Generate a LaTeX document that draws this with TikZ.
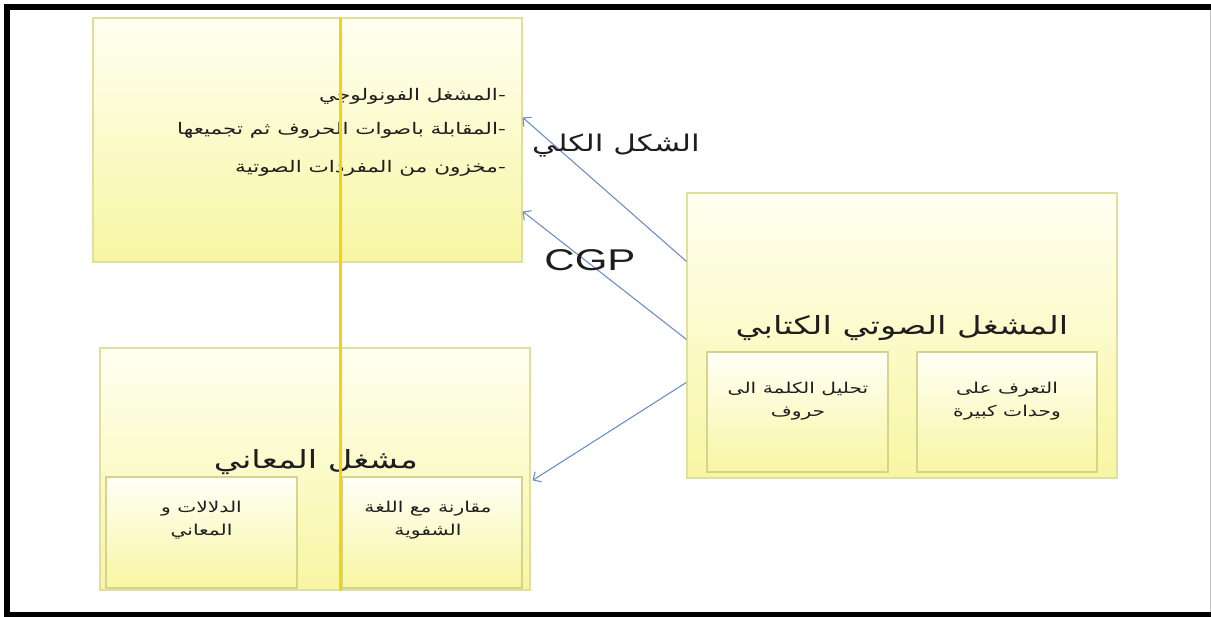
\documentclass[tikz,border=0pt]{standalone}
\usepackage{fontspec}
\setmainfont{Liberation Sans}
\newfontfamily\arabicfont[Script=Arabic]{DejaVu Sans}
\TeXXeTstate=1
\usetikzlibrary{calc,arrows.meta}

\definecolor{boxedge}{HTML}{E0E09C}
\definecolor{inneredge}{HTML}{D4D48C}
\definecolor{boxtop}{HTML}{FFFFF2}
\definecolor{boxbottom}{HTML}{F8F6A2}
\definecolor{arrowblue}{HTML}{6F8FC9}
\definecolor{splitline}{HTML}{F0D410}
\definecolor{inktext}{HTML}{1E1E1E}

% right-to-left Arabic text, set slightly wide
\newcommand{\ar}[1]{\scalebox{1.35}[1]{\arabicfont\beginR #1\endR}}

\begin{document}
\begin{tikzpicture}[x=1pt,y=-1pt,
  panel/.style={draw=boxedge, line width=1.2pt, top color=boxtop, bottom color=boxbottom,
                rectangle, inner sep=0pt},
  subpanel/.style={draw=inneredge, line width=1.2pt, top color=boxtop!60!white, bottom color=boxbottom,
                rectangle, inner sep=0pt},
  listline/.style={anchor=east, text=inktext, font=\fontsize{16}{18}\selectfont, inner sep=0pt},
  heading/.style={text=inktext, font=\fontsize{25}{28}\selectfont, inner sep=0pt},
  subtext/.style={text=inktext, font=\fontsize{15}{23}\selectfont, align=center, inner sep=0pt},
  conn/.style={draw=arrowblue, line width=1.1pt, -{Straight Barb[length=6pt,width=12pt]}},
  edgelabel/.style={text=inktext, inner sep=0pt}]

\useasboundingbox (0,0) rectangle (1211,617);
\fill[white] (0,0) rectangle (1211,617);

% outer frame
\draw[line width=6pt] (7,617) -- (7,7) -- (1211,7);
\fill (4,612) rectangle (1211,617);
\draw[black!25, line width=1pt] (1210,10) -- (1210,612);

% phonological processor (top left)
\node[panel, minimum width=429pt, minimum height=244pt] (phon) at (307.5,140) {};
\node[listline] (l1) at (506,96)  {\ar{-المشغل الفونولوجي}};
\node[listline] (l2) at (506,130) {\ar{-المقابلة باصوات الحروف ثم تجميعها}};
\node[listline] (l3) at (506,168) {\ar{-مخزون من المفردات الصوتية}};

% semantic processor (bottom left)
\node[panel, minimum width=430pt, minimum height=242pt] (sem) at (315,469) {};
\node[heading] (semtitle) at (316,462) {\ar{مشغل المعاني}};
\node[subpanel, minimum width=191pt, minimum height=111pt] (semA) at (201.5,532.5) {};
\node[subpanel, minimum width=180pt, minimum height=111pt] (semB) at (432,532.5) {};
\node[subtext] (semAt) at (201.5,520) {\ar{الدلالات و}\\\ar{المعاني}};
\node[subtext] (semBt) at (428,520) {\ar{مقارنة مع اللغة}\\\ar{الشفوية}};

% grapho-phonological processor (right)
\node[panel, minimum width=430pt, minimum height=285pt] (sound) at (902,335.5) {};
\node[heading] (soundtitle) at (902,328) {\ar{المشغل الصوتي الكتابي}};
\node[subpanel, minimum width=181pt, minimum height=120pt] (soundA) at (797.5,412) {};
\node[subpanel, minimum width=180pt, minimum height=120pt] (soundB) at (1007,412) {};
\node[subtext] (soundAt) at (798,401) {\ar{تحليل الكلمة الى}\\\ar{حروف}};
\node[subtext] (soundBt) at (1007,401) {\ar{التعرف على}\\\ar{وحدات كبيرة}};

% vertical divider line
\draw[splitline, line width=3pt] (340,18) -- (340,591);

% connectors
\draw[conn] ($(sound.north west)+(0,69)$) -- ($(phon.north east)+(0,100)$);
\draw[conn] ($(sound.north west)+(0,147)$) -- ($(phon.north east)+(0,194)$);
\draw[conn] ($(sound.north west)+(0,190)$) -- ($(sem.north east)+(2,133)$);

% connector labels
\node[edgelabel, font=\fontsize{23}{26}\selectfont] (whole) at (616,146) {\ar{الشكل الكلي}};
\node[edgelabel] (cgp) at (590,260) {\scalebox{1.4}[1]{\fontsize{30}{32}\selectfont CGP}};

\end{tikzpicture}
\end{document}
